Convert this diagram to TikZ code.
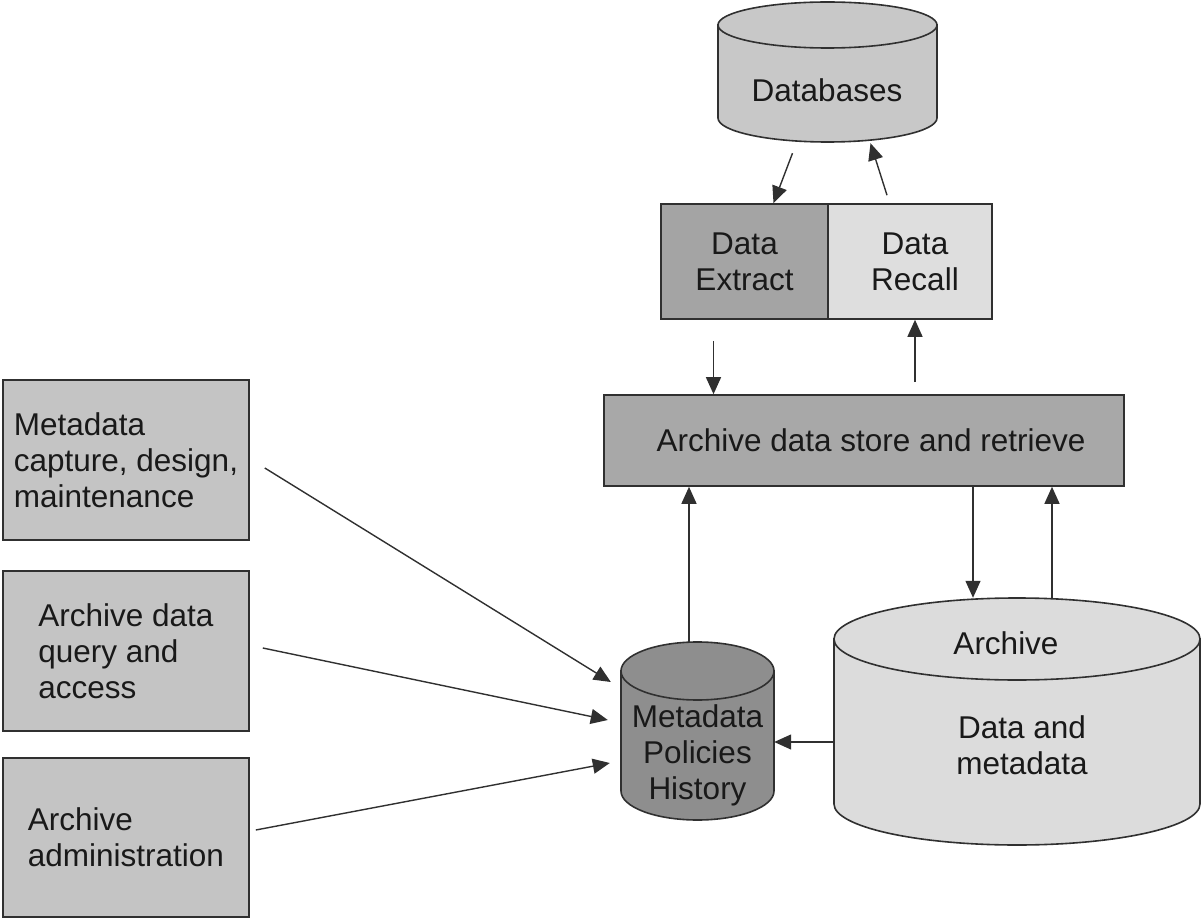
\documentclass[tikz,border=0pt]{standalone}
\usepackage{fontspec}
\setmainfont{Liberation Sans}
\usetikzlibrary{calc,arrows.meta}
\definecolor{cdb}{HTML}{C8C8C8}
\definecolor{cext}{HTML}{A4A4A4}
\definecolor{crec}{HTML}{DEDEDE}
\definecolor{cstore}{HTML}{A8A8A8}
\definecolor{cleft}{HTML}{C4C4C4}
\definecolor{cmeta}{HTML}{8E8E8E}
\definecolor{carch}{HTML}{DCDCDC}
\definecolor{cline}{HTML}{303030}
\begin{document}
\begin{tikzpicture}[x=1pt,y=-1pt,
  lab/.style={font=\fontsize{31.5}{36}\selectfont, text=black!90},
  box/.style={draw=cline, line width=1.6pt, inner sep=0pt, lab, align=left},
  ghost/.style={inner sep=0pt, draw=none},
  cyl/.style={draw=cline, line width=1.6pt},
  arr/.style={draw=cline, line width=1.4pt, -{Triangle[length=17pt,width=15pt]}}
]
\useasboundingbox (0,0) rectangle (1203,920);

% ---------- cylinders ----------
% Databases
\path[cyl, fill=cdb] (718,25) -- (718,118) arc[start angle=180, end angle=360, x radius=109.5pt, y radius=24pt] -- (937,25) -- cycle;
\path[cyl, fill=cdb] (827.5,25) ellipse [x radius=109.5pt, y radius=23pt];
\node[ghost, minimum width=219pt, minimum height=140pt] (db) at (827.5,72) {};
\node[lab] (dbt) at (827,90) {Databases};

% Metadata
\path[cyl, fill=cmeta] (621,671) -- (621,791) arc[start angle=180, end angle=360, x radius=76.5pt, y radius=29pt] -- (774,671) -- cycle;
\path[cyl, fill=cmeta] (697.5,671) ellipse [x radius=76.5pt, y radius=29pt];
\node[ghost, minimum width=153pt, minimum height=178pt] (meta) at (697.5,731) {};
\node[lab, align=center] (metat) at (697.5,755) {Metadata\\Policies\\History};

% Archive
\path[cyl, fill=carch] (834,639) -- (834,804) arc[start angle=180, end angle=360, x radius=183pt, y radius=41pt] -- (1200,639) -- cycle;
\path[cyl, fill=carch] (1017,639) ellipse [x radius=183pt, y radius=41pt];
\node[ghost, minimum width=366pt, minimum height=247pt] (archive) at (1017,721.5) {};
\node[lab] (archt) at (1006,643) {Archive};
\node[lab, align=center] (archd) at (1022,745) {Data and\\metadata};

% ---------- boxes ----------
\node[box, fill=cext, minimum width=167pt, minimum height=115pt, align=center] (extract) at (744.5,261.5) {Data\\Extract};
\node[box, fill=crec, minimum width=164pt, minimum height=115pt, align=center] (recall) at (910,261.5) {\hspace*{10pt}Data\\\hspace*{10pt}Recall};
\node[box, fill=cstore, minimum width=520pt, minimum height=91pt] (store) at (864,440.5) {\hspace*{14pt}Archive data store and retrieve};

\node[box, fill=cleft, minimum width=246pt, minimum height=160pt] (box1) at (126,460) {Metadata\\capture, design,\\maintenance};
\node[box, fill=cleft, minimum width=246pt, minimum height=160pt] (box2) at (126,651) {Archive data\\query and\\access};
\node[box, fill=cleft, minimum width=246pt, minimum height=159pt] (box3) at (126,837.5) {Archive\\administration};

% ---------- connectors ----------
\draw[arr] ($(db.south)+(-35,11)$) -- ($(extract.north)+(29,0)$);
\draw[arr] ($(recall.north)+(-23,-8)$) -- ($(db.south)+(43,1)$);
\draw[arr] ($(extract.south)+(-31,21)$) coordinate (s3) -- (s3 |- store.north);
\draw[arr] ($(store.north)+(51,-12)$) coordinate (s4) -- (s4 |- recall.south);
\draw[arr] ($(meta.north)+(-8.5,0)$) coordinate (s5) -- (s5 |- store.south);
\draw[arr] ($(store.south)+(109,0)$) coordinate (s6) -- (s6 |- archive.north);
\draw[arr] ($(archive.north)+(35,0)$) coordinate (s7) -- (s7 |- store.south);
\draw[arr] ($(archive.west)+(0,20.5)$) coordinate (s8) -- (s8 -| meta.east);
\draw[arr] ($(box1.east)+(15,8)$) -- ($(meta.west)+(-10,-49)$);
\draw[arr] ($(box2.east)+(13,-3)$) -- ($(meta.west)+(-13,-11)$);
\draw[arr] ($(box3.east)+(6,-7.5)$) -- ($(meta.west)+(-11,32)$);
\end{tikzpicture}
\end{document}
